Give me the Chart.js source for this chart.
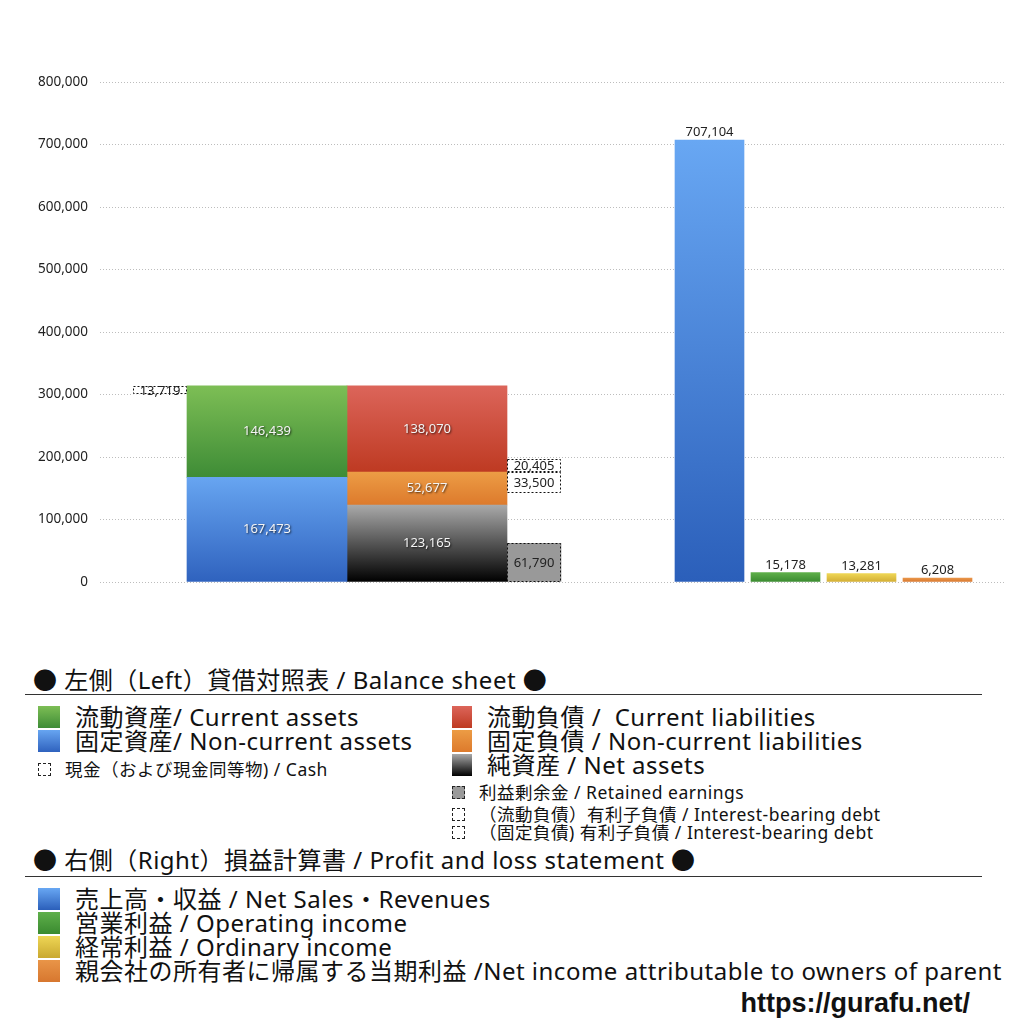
<!DOCTYPE html>
<html lang="ja">
<head>
<meta charset="UTF-8">
<title>貸借対照表 / 損益計算書</title>
<script src="https://cdn.jsdelivr.net/npm/chart.js@4.4.1/dist/chart.umd.min.js"></script>
<style>
  html, body { margin: 0; padding: 0; background: #fff; }
  body { width: 1024px; height: 1024px; position: relative; overflow: hidden;
         font-family: "Noto Sans", "Noto Sans CJK JP", sans-serif; color: #111; }
  #wrap { position: absolute; left: 0; top: 0; width: 1024px; height: 620px; }
  .hd { position: absolute; left: 33px; font-size: 24px; letter-spacing: 0.5px; height: 28px; line-height: 28px; white-space: nowrap; }
  .rule { position: absolute; left: 25px; width: 957px; height: 0; border-top: 1px solid #333; }
  .row { position: absolute; display: flex; align-items: center; white-space: nowrap; }
  .big { font-size: 24px; letter-spacing: 0.5px; height: 24px; line-height: 24px; }
  .small { font-size: 17.5px; letter-spacing: 0.5px; height: 18px; line-height: 18px; }
  .sw { display: inline-block; width: 22px; height: 22px; margin-right: 15px; flex: none; }
  .sq { display: inline-block; width: 13px; height: 13px; margin-right: 14px; flex: none;
        border: 1px dashed #222; box-sizing: border-box; background: #fff; }
  #url { position: absolute; right: 54px; top: 987px; font-family: "Liberation Sans", Arial, sans-serif;
         font-weight: bold; font-size: 27px; line-height: 32px; }
</style>
</head>
<body>
<div id="wrap"><canvas id="bs"></canvas></div>

<div class="hd" style="top:666px">● 左側（Left）貸借対照表 / Balance sheet ●</div>
<div class="rule" style="top:694px"></div>

<div class="row big" style="left:38px;top:705px"><span class="sw" style="background:linear-gradient(#7dbe55,#3e8c36)"></span>流動資産/ Current assets</div>
<div class="row big" style="left:38px;top:729px"><span class="sw" style="background:linear-gradient(#67a5f1,#2f62be)"></span>固定資産/ Non-current assets</div>
<div class="row small" style="left:38px;top:760px"><span class="sq"></span>現金（および現金同等物) / Cash</div>

<div class="row big" style="left:452px;top:705px"><span class="sw" style="width:20px;background:linear-gradient(#dc655a,#be3a22)"></span>流動負債 /&nbsp; Current liabilities</div>
<div class="row big" style="left:452px;top:729px"><span class="sw" style="width:20px;background:linear-gradient(#ec9c45,#dd7a2c)"></span>固定負債 / Non-current liabilities</div>
<div class="row big" style="left:452px;top:753px"><span class="sw" style="width:20px;background:linear-gradient(#a9a9a9,#000)"></span>純資産 / Net assets</div>
<div class="row small" style="left:452px;top:783px"><span class="sq" style="background:#999"></span>利益剰余金 / Retained earnings</div>
<div class="row small" style="left:452px;top:805px"><span class="sq"></span>（流動負債）有利子負債 / Interest-bearing debt</div>
<div class="row small" style="left:452px;top:823px"><span class="sq"></span>（固定負債) 有利子負債 / Interest-bearing debt</div>

<div class="hd" style="top:846px">● 右側（Right）損益計算書 / Profit and loss statement ●</div>
<div class="rule" style="top:876px"></div>

<div class="row big" style="left:38px;top:887px"><span class="sw" style="background:linear-gradient(#68a7f3,#2b5fba)"></span>売上高・収益 / Net Sales・Revenues</div>
<div class="row big" style="left:38px;top:911px"><span class="sw" style="background:linear-gradient(#5fb04a,#3a8a30)"></span>営業利益 / Operating income</div>
<div class="row big" style="left:38px;top:935px"><span class="sw" style="background:linear-gradient(#eed655,#c9a830)"></span>経常利益 / Ordinary income</div>
<div class="row big" style="left:38px;top:959px"><span class="sw" style="background:linear-gradient(#e99548,#d7772f)"></span>親会社の所有者に帰属する当期利益 /Net income attributable to owners of parent</div>

<div id="url">https://gurafu.net/</div>

<script>
// balance sheet (left side), values in the units of the source chart
const assetNames = ['固定資産', '流動資産'];          // bottom -> top
const assetValues = [167473, 146439];
const claimNames = ['純資産', '固定負債', '流動負債'];  // bottom -> top
const claimValues = [123165, 52677, 138070];
const cashValue = 13719;
const retainedEarnings = 61790;
const debtNames = ['（流動負債）有利子負債', '（固定負債）有利子負債'];
const debtValues = [20405, 33500];

// profit and loss (right side)
const plNames = ['売上高・収益', '営業利益', '経常利益', '当期利益'];
const plValues = [707104, 15178, 13281, 6208];

const yTicks = [0, 100000, 200000, 300000, 400000, 500000, 600000, 700000, 800000];

// horizontal layout of the columns (pixels of plot width)
const slotOrder = ['lead', 'cash', 'assets', 'claims', 'debt', 'gap', 'sales', 'g1', 'op', 'g2', 'ord', 'g3', 'net', 'tail'];
const slotWidth = [33, 54, 160, 160, 54, 114, 69, 7, 69, 7, 69, 7, 69, 33];

const slotCenter = {}, slotSize = {};
let total = 0;
slotOrder.forEach((n, i) => {
  slotCenter[n] = total + slotWidth[i] / 2;
  slotSize[n] = slotWidth[i];
  total += slotWidth[i];
});

const FONT = '"Noto Sans", "Noto Sans CJK JP", sans-serif';

function grad(top, bottom) {
  return c => {
    const chart = c.chart;
    if (!chart.chartArea || !c.raw) return bottom;
    const y = chart.scales.y;
    const g = chart.ctx.createLinearGradient(0, y.getPixelForValue(c.raw.y[1]), 0, y.getPixelForValue(c.raw.y[0]));
    g.addColorStop(0, top);
    g.addColorStop(1, bottom);
    return g;
  };
}

function bar(label, slot, lo, hi, fill, labelStyle, dashed) {
  return {
    label,
    data: [{ x: slotCenter[slot], y: [lo, hi] }],
    slot,
    barThickness: slotSize[slot],
    grouped: false,
    borderWidth: 0,
    backgroundColor: fill,
    labelStyle,
    dashed: !!dashed
  };
}

const assetColors = [['#67a5f1', '#2f62be'], ['#7dbe55', '#3e8c36']];
const claimColors = [['#a9a9a9', '#000000'], ['#ec9c45', '#dd7a2c'], ['#dc655a', '#be3a22']];
const plColors = [['#68a7f3', '#2b5fba'], ['#5fb04a', '#3a8a30'], ['#eed655', '#d2ad34'], ['#e99548', '#d7772f']];
const plSlots = ['sales', 'op', 'ord', 'net'];

const datasets = [];
let acc = 0;
assetValues.forEach((v, i) => {
  datasets.push(bar(assetNames[i], 'assets', acc, acc + v, grad(...assetColors[i]), 'inside'));
  acc += v;
});
const assetTotal = acc;
acc = 0;
const claimBase = [];
claimValues.forEach((v, i) => {
  claimBase.push(acc);
  datasets.push(bar(claimNames[i], 'claims', acc, acc + v, grad(...claimColors[i]), 'inside'));
  acc += v;
});
datasets.push(bar('現金', 'cash', assetTotal - cashValue, assetTotal, '#fff', 'box', true));
datasets.push(bar('利益剰余金', 'debt', 0, retainedEarnings, '#999999', 'box', true));
datasets.push(bar(debtNames[0], 'debt', claimBase[2], claimBase[2] + debtValues[0], '#fff', 'box', true));
datasets.push(bar(debtNames[1], 'debt', claimBase[2] - debtValues[1], claimBase[2], '#fff', 'box', true));
plValues.forEach((v, i) => {
  datasets.push(bar(plNames[i], plSlots[i], 0, v, grad(...plColors[i]), 'above'));
});

const fmt = v => v.toLocaleString('en-US');

const barLabels = {
  id: 'barLabels',
  afterDatasetsDraw(chart) {
    const ctx = chart.ctx;
    chart.data.datasets.forEach((ds, i) => {
      chart.getDatasetMeta(i).data.forEach((el, j) => {
        const r = ds.data[j].y;
        const top = Math.round(el.y), base = Math.round(el.base);
        const left = Math.round(el.x - el.width / 2);
        ctx.save();
        if (ds.dashed) {
          ctx.strokeStyle = '#111';
          ctx.lineWidth = 1;
          ctx.setLineDash([2, 2]);
          ctx.strokeRect(left + 0.5, top + 0.5, Math.round(el.width) - 1, base - top - 1);
          ctx.setLineDash([]);
        }
        ctx.textAlign = 'center';
        ctx.font = '13px ' + FONT;
        const text = fmt(r[1] - r[0]);
        if (ds.labelStyle === 'inside') {
          ctx.textBaseline = 'middle';
          ctx.shadowColor = 'rgba(0,0,0,0.7)';
          ctx.shadowBlur = 2;
          ctx.shadowOffsetX = 1;
          ctx.shadowOffsetY = 1;
          ctx.fillStyle = '#f4f4f4';
          ctx.fillText(text, el.x, (top + base) / 2);
        } else if (ds.labelStyle === 'above') {
          ctx.textBaseline = 'bottom';
          ctx.fillStyle = '#222';
          ctx.fillText(text, el.x, top - 1);
        } else {
          ctx.textBaseline = 'middle';
          ctx.fillStyle = '#222';
          ctx.fillText(text, el.x, (top + base) / 2 + 1);
        }
        ctx.restore();
      });
    });
  }
};

const chart = new Chart(document.getElementById('bs'), {
  type: 'bar',
  data: { datasets },
  options: {
    responsive: true,
    maintainAspectRatio: false,
    animation: false,
    layout: { padding: { left: 0, right: 19, top: 82, bottom: 38 } },
    plugins: { legend: { display: false }, tooltip: { enabled: false } },
    scales: {
      x: { type: 'linear', min: 0, max: total, offset: false, display: false },
      y: {
        min: 0, max: 800000, stacked: false,
        afterFit: s => { s.width = 100; },
        afterBuildTicks: s => { s.ticks = yTicks.map(v => ({ value: v })); },
        border: { display: false, dash: [1, 2] },
        grid: { color: '#bdbdbd', lineWidth: 1, drawTicks: false },
        ticks: {
          padding: 12, color: '#222',
          font: { size: 13.5, family: FONT },
          callback: v => fmt(v)
        }
      }
    }
  },
  plugins: [barLabels]
});

// keep bar widths in step with the real plot width
const k = chart.chartArea.width / total;
if (Math.abs(k - 1) > 0.001) {
  chart.data.datasets.forEach(ds => { ds.barThickness = slotSize[ds.slot] * k; });
  chart.update();
}
</script>
</body>
</html>
